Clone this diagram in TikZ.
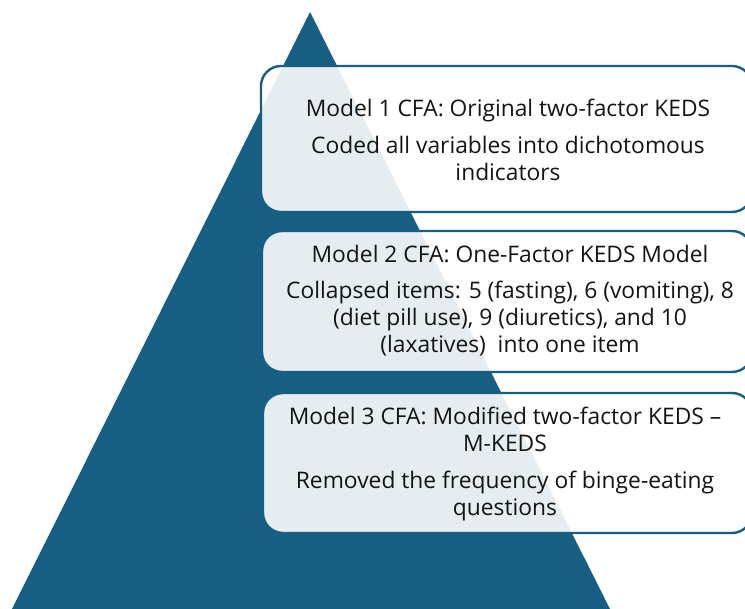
\documentclass[tikz,border=0pt]{standalone}
\usepackage{fontspec}
\setmainfont{Open Sans}
\definecolor{teal}{HTML}{165F82}
\definecolor{ink}{HTML}{141414}
\begin{document}
\begin{tikzpicture}[x=1pt,y=-1pt,
  stage/.style={draw=teal,line width=2.4pt,rounded corners=20pt,
    fill=white,fill opacity=0.89},
  label/.style={text=ink,align=center,font=\fontsize{22.8}{27}\selectfont,
    inner sep=0pt}]
  \useasboundingbox (0,0) rectangle (745,609);
  \clip (0,0) rectangle (745,609);
  % pyramid
  \fill[teal] (310,12) -- (12,609) -- (610,609) -- cycle;
  % three stages
  \draw[stage] (261,66) rectangle (752,212);
  \draw[stage] (262,231) rectangle (752,372);
  \draw[stage] (263,393) rectangle (752,533);
  \node[label] (m1) at (508,140) {Model 1 CFA: Original two-factor KEDS\\[10pt]
    Coded all variables into dichotomous\\ indicators};
  \node[label] (m2) at (510,301) {Model 2 CFA: One-Factor KEDS Model\\[9pt]
    Collapsed items: 5 (fasting), 6 (vomiting), 8\\ (diet pill use), 9 (diuretics), and 10\\ (laxatives)\ \ into one item};
  \node[label] (m3) at (505,464) {Model 3 CFA: Modified two-factor KEDS --\\ M-KEDS\\[10pt]
    Removed the frequency of binge-eating\\ questions};
\end{tikzpicture}
\end{document}
